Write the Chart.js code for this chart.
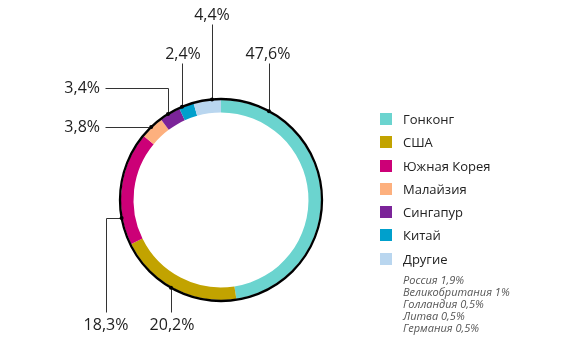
<!DOCTYPE html>
<html>
<head>
<meta charset="utf-8">
<script src="https://cdn.jsdelivr.net/npm/chart.js@4.4.1/dist/chart.umd.min.js"></script>
<style>
    body { margin: 0; background: #fff; }
    #wrap { position: relative; width: 561px; height: 360px; }
    #legend { position: absolute; left: 380px; top: 113px; font-family: "Open Sans", sans-serif; color: #222; }
    .item { height: 23.3px; display: flex; align-items: flex-start; font-size: 13px; }
    .box { width: 12px; height: 12px; margin-right: 11px; }
    .item span { line-height: 12px; }
    #notes { position: absolute; left: 403px; top: 274px; font-family: "Open Sans", sans-serif; font-style: italic; font-size: 11px; line-height: 12px; color: #555; }
</style>
</head>
<body>
<div id="wrap">
    <canvas id="myChart" width="561" height="360"></canvas>
    <div id="legend"></div>
    <div id="notes"></div>
</div>
<script>
const countries = ['Гонконг', 'США', 'Южная Корея', 'Малайзия', 'Сингапур', 'Китай', 'Другие'];
const shares = [47.6, 20.2, 18.3, 3.8, 3.4, 2.4, 4.4];
const colors = ['#6bd4cf', '#c2a300', '#cc0077', '#fdb07e', '#7b2499', '#00a0cc', '#b9d6ef'];
const otherCountries = ['Россия 1,9%', 'Великобритания 1%', 'Голландия 0,5%', 'Литва 0,5%', 'Германия 0,5%'];

const fmt = (v) => v.toFixed(1).replace('.', ',') + '%';

// where each callout label sits and how its leader reaches the ring
const callouts = [
    {i: 0, lx: 268, ly: 54, align: 'center', path: 'v', x: 269, y0: 63},
    {i: 6, lx: 212, ly: 15, align: 'center', path: 'v', x: 212, y0: 24},
    {i: 5, lx: 183, ly: 54, align: 'center', path: 'v', x: 182, y0: 63},
    {i: 4, lx: 100, ly: 88, align: 'right', path: 'hv', x0: 105, y: 88, x: 168},
    {i: 3, lx: 100, ly: 127, align: 'right', path: 'h', x0: 105, y: 127},
    {i: 2, lx: 106, ly: 325, align: 'center', path: 'vh', x: 106, y0: 312, y: 218},
    {i: 1, lx: 172, ly: 325, align: 'center', path: 'v', x: 171, y0: 312}
];

const calloutPlugin = {
    id: 'callouts',
    afterDraw(chart) {
        const ctx = chart.ctx;
        const arc = chart.getDatasetMeta(0).data[0];
        const cx = arc.x, cy = arc.y, R = arc.outerRadius + 1;
        ctx.save();
        ctx.strokeStyle = '#000';
        ctx.lineWidth = 2.3;
        ctx.beginPath();
        ctx.arc(cx, cy, R, 0, Math.PI * 2);
        ctx.stroke();

        const yOnCircle = (x, up) => cy + (up ? -1 : 1) * Math.sqrt(R * R - (x - cx) * (x - cx));
        const xOnCircle = (y) => cx - Math.sqrt(R * R - (y - cy) * (y - cy));

        ctx.strokeStyle = '#333';
        ctx.lineWidth = 1;
        for (let c of callouts) {
            let pts;
            if (c.path === 'v') {
                let up = c.y0 < cy;
                pts = [[c.x, c.y0], [c.x, yOnCircle(c.x, up)]];
            } else if (c.path === 'hv') {
                pts = [[c.x0, c.y], [c.x, c.y], [c.x, yOnCircle(c.x, true)]];
            } else if (c.path === 'h') {
                pts = [[c.x0, c.y], [xOnCircle(c.y), c.y]];
            } else {
                pts = [[c.x, c.y0], [c.x, c.y], [xOnCircle(c.y), c.y]];
            }
            ctx.beginPath();
            ctx.moveTo(Math.round(pts[0][0]) + 0.5, Math.round(pts[0][1]) + 0.5);
            for (let k = 1; k < pts.length; k++) {
                ctx.lineTo(Math.round(pts[k][0]) + 0.5, Math.round(pts[k][1]) + 0.5);
            }
            ctx.stroke();
            let end = pts[pts.length - 1];
            ctx.fillStyle = '#000';
            ctx.beginPath();
            ctx.arc(end[0], end[1], 2, 0, Math.PI * 2);
            ctx.fill();

            ctx.fillStyle = '#1e1e1e';
            ctx.font = '16px "Open Sans", sans-serif';
            ctx.textAlign = c.align;
            ctx.textBaseline = 'middle';
            ctx.fillText(fmt(shares[c.i]), c.lx, c.ly);
        }
        ctx.restore();
    }
};

const createChart = () => {
    let ctx = document.getElementById('myChart').getContext('2d');
    new Chart(ctx, {
        type: 'doughnut',
        data: {
            labels: countries,
            datasets: [{
                data: shares,
                backgroundColor: colors,
                borderWidth: 0
            }]
        },
        options: {
            responsive: false,
            animation: false,
            cutout: '87.5%',
            layout: {padding: {left: 121, top: 100, right: 240, bottom: 60}},
            plugins: {legend: {display: false}, tooltip: {enabled: false}}
        },
        plugins: [calloutPlugin]
    });
};

const buildLegend = () => {
    let legend = document.getElementById('legend');
    countries.forEach((name, i) => {
        legend.innerHTML += `<div class="item"><div class="box" style="background:${colors[i]}"></div><span>${name}</span></div>`;
    });
    document.getElementById('notes').innerHTML = otherCountries.join('<br>');
};

buildLegend();
createChart();
</script>
</body>
</html>
